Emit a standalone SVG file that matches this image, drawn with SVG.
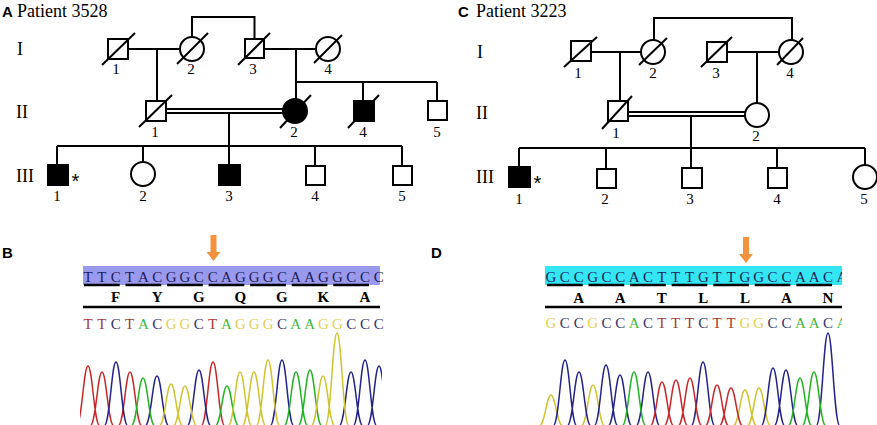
<svg xmlns="http://www.w3.org/2000/svg" width="877" height="425" viewBox="0 0 877 425">
<style>
.ln{stroke:#000;stroke-width:2;fill:none}
.sh{stroke:#000;stroke-width:2;fill:#fff}
.fl{stroke:#000;stroke-width:2;fill:#000}
.lab{font-family:"Liberation Serif",serif;font-size:15px;text-anchor:middle;fill:#000}
.gen{font-family:"Liberation Serif",serif;font-size:18px;fill:#000}
.pl{font-family:"Liberation Sans",Arial,sans-serif;font-weight:bold;font-size:15px;fill:#000}
.pt{font-family:"Liberation Serif",serif;font-size:18px;fill:#000}
.ast{font-family:"Liberation Sans",Arial,sans-serif;font-size:20px;fill:#000}
.seq{font-family:"Liberation Serif",serif;font-size:15px;text-anchor:middle}
.s1{fill:#1e1e5a}
.s2{fill:#000;font-weight:bold}
.T{fill:#a33a32}.C{fill:#34346e}.A{fill:#3dba3d}.G{fill:#e3cf55}
.ul{stroke:#000;stroke-width:2.5}
.rl{stroke:#000;stroke-width:2.5}
.arr{fill:#f5923e}
.tr{fill:none;stroke-width:1.5}
.tT{stroke:#c8282a}.tC{stroke:#23238a}.tA{stroke:#22b422}.tG{stroke:#cfc430}
</style>
<defs>
<path id="arrow" d="M-3,-26H3V-9H7L0,0L-7,-9H-3Z"/>
<clipPath id="clipB"><rect x="80" y="260" width="302" height="170"/></clipPath>
<clipPath id="clipD"><rect x="540" y="260" width="302" height="170"/></clipPath>
</defs>

<!-- Panel labels -->
<text class="pl" x="2" y="17">A</text>
<text class="pt" x="17" y="17">Patient 3528</text>
<text class="pl" x="458" y="17">C</text>
<text class="pt" x="476" y="17">Patient 3223</text>
<text class="pl" x="2" y="258">B</text>
<text class="pl" x="431" y="258">D</text>

<!-- Generation labels -->
<text class="gen" x="17" y="55">I</text>
<text class="gen" x="16" y="118">II</text>
<text class="gen" x="16" y="182">III</text>
<text class="gen" x="477" y="58">I</text>
<text class="gen" x="476" y="119">II</text>
<text class="gen" x="476" y="183">III</text>

<!-- Connectors -->
<g id="connectors" class="ln">
<path d="M128,49H180"/>
<path d="M157,49V101"/>
<path d="M192,37V17H254.5V39"/>
<path d="M264,49H316"/>
<path d="M296,49V99"/>
<path d="M296,82H437"/>
<path d="M363,82V101"/>
<path d="M437,82V101"/>
<path d="M166,109H283M166,113H283"/>
<path d="M229,113V165"/>
<path d="M57,146H402"/>
<path d="M57,146V165M143,146V162M315,146V166M402,146V166"/>
<path d="M591,52H641"/>
<path d="M620,52V101"/>
<path d="M654,40V18H792V40"/>
<path d="M727,52H779"/>
<path d="M757,52V103"/>
<path d="M628,112H745M628,116H745"/>
<path d="M691,116V168"/>
<path d="M519,148H865"/>
<path d="M519,148V167M606,148V169M777,148V168M865,148V165"/>
</g>

<!-- Pedigree A nodes -->
<g id="A-I-1"><rect class="sh" x="108" y="39" width="20" height="20"/><line class="ln" x1="102" y1="65" x2="135" y2="33"/><text class="lab" x="116" y="74">1</text></g>
<g id="A-I-2"><circle class="sh" cx="192" cy="49" r="12"/><line class="ln" x1="177" y1="64" x2="208" y2="33"/><text class="lab" x="191" y="74">2</text></g>
<g id="A-I-3"><rect class="sh" x="245" y="39" width="19" height="19"/><line class="ln" x1="238" y1="65" x2="270" y2="33"/><text class="lab" x="253" y="74">3</text></g>
<g id="A-I-4"><circle class="sh" cx="328" cy="49" r="12"/><line class="ln" x1="314" y1="63" x2="342" y2="35"/><text class="lab" x="328" y="74">4</text></g>
<g id="A-II-1"><rect class="sh" x="146" y="101" width="20" height="20"/><line class="ln" x1="139" y1="127" x2="172" y2="95"/><text class="lab" x="155" y="137">1</text></g>
<g id="A-II-2"><circle class="fl" cx="295" cy="111" r="12"/><line class="ln" x1="280" y1="128" x2="311" y2="95"/><text class="lab" x="294" y="137">2</text></g>
<g id="A-II-4"><rect class="fl" x="354" y="101" width="20" height="20"/><line class="ln" x1="348" y1="128" x2="379" y2="95"/><text class="lab" x="363" y="137">4</text></g>
<g id="A-II-5"><rect class="sh" x="428" y="101" width="19" height="19"/><text class="lab" x="437" y="137">5</text></g>
<g id="A-III-1"><rect class="fl" x="48" y="165" width="20" height="20"/><text class="ast" x="71.5" y="188">*</text><text class="lab" x="57" y="201">1</text></g>
<g id="A-III-2"><circle class="sh" cx="143" cy="174" r="12"/><text class="lab" x="143" y="201">2</text></g>
<g id="A-III-3"><rect class="fl" x="219" y="165" width="21" height="20"/><text class="lab" x="229" y="201">3</text></g>
<g id="A-III-4"><rect class="sh" x="306" y="166" width="19" height="19"/><text class="lab" x="315" y="201">4</text></g>
<g id="A-III-5"><rect class="sh" x="393" y="166" width="19" height="19"/><text class="lab" x="402" y="201">5</text></g>

<!-- Pedigree C nodes -->
<g id="C-I-1"><rect class="sh" x="571" y="41" width="20" height="20"/><line class="ln" x1="564" y1="67" x2="597" y2="37"/><text class="lab" x="578" y="78">1</text></g>
<g id="C-I-2"><circle class="sh" cx="653" cy="52" r="12"/><line class="ln" x1="639" y1="65" x2="667" y2="38"/><text class="lab" x="653" y="78">2</text></g>
<g id="C-I-3"><rect class="sh" x="707" y="42" width="20" height="20"/><line class="ln" x1="701" y1="67" x2="732" y2="37"/><text class="lab" x="716" y="78">3</text></g>
<g id="C-I-4"><circle class="sh" cx="791" cy="52" r="12"/><line class="ln" x1="777" y1="65" x2="803" y2="38"/><text class="lab" x="790" y="78">4</text></g>
<g id="C-II-1"><rect class="sh" x="608" y="101" width="20" height="20"/><line class="ln" x1="602" y1="129" x2="632" y2="96"/><text class="lab" x="616" y="138">1</text></g>
<g id="C-II-2"><circle class="sh" cx="757" cy="115" r="12"/><text class="lab" x="756" y="141">2</text></g>
<g id="C-III-1"><rect class="fl" x="509" y="167" width="21" height="20"/><text class="ast" x="533.5" y="190">*</text><text class="lab" x="519" y="204">1</text></g>
<g id="C-III-2"><rect class="sh" x="597" y="169" width="19" height="19"/><text class="lab" x="605" y="204">2</text></g>
<g id="C-III-3"><rect class="sh" x="682" y="168" width="20" height="20"/><text class="lab" x="690" y="204">3</text></g>
<g id="C-III-4"><rect class="sh" x="768" y="168" width="19" height="20"/><text class="lab" x="777" y="204">4</text></g>
<g id="C-III-5"><circle class="sh" cx="865" cy="177" r="12"/><text class="lab" x="864" y="204">5</text></g>

<!-- Panel B sequence -->
<g id="seqB">
<rect x="83" y="266" width="297" height="19" fill="#9999ee"/>
<text class="seq s1" y="282" x="88 101.85 115.7 129.55 143.4 157.25 171.1 184.95 198.8 212.65 226.5 240.35 254.2 268.05 281.9 295.75 309.6 323.45 337.3 351.15 365 378.85">TTCTACGGCCAGGGCAAGGCCC</text>
<g class="ul">
<line x1="84" y1="285" x2="119.7" y2="285"/><line x1="125.5" y1="285" x2="161.2" y2="285"/><line x1="167.1" y1="285" x2="202.8" y2="285"/><line x1="208.6" y1="285" x2="244.3" y2="285"/><line x1="250.2" y1="285" x2="285.9" y2="285"/><line x1="291.7" y1="285" x2="327.4" y2="285"/><line x1="333.3" y1="285" x2="369" y2="285"/>
</g>
<text class="seq s2" y="302" x="115.7 157.25 198.8 240.35 281.9 323.45 365">FYGQGKA</text>
<line class="rl" x1="83" y1="307" x2="380" y2="307"/>
<text class="seq" y="329"><tspan class="T" x="88">T</tspan><tspan class="T" x="101.85">T</tspan><tspan class="C" x="115.7">C</tspan><tspan class="T" x="129.55">T</tspan><tspan class="A" x="143.4">A</tspan><tspan class="C" x="157.25">C</tspan><tspan class="G" x="171.1">G</tspan><tspan class="G" x="184.95">G</tspan><tspan class="C" x="198.8">C</tspan><tspan class="T" x="212.65">T</tspan><tspan class="A" x="226.5">A</tspan><tspan class="G" x="240.35">G</tspan><tspan class="G" x="254.2">G</tspan><tspan class="G" x="268.05">G</tspan><tspan class="C" x="281.9">C</tspan><tspan class="A" x="295.75">A</tspan><tspan class="A" x="309.6">A</tspan><tspan class="G" x="323.45">G</tspan><tspan class="G" x="337.3">G</tspan><tspan class="C" x="351.15">C</tspan><tspan class="C" x="365">C</tspan><tspan class="C" x="378.85">C</tspan></text>
<use href="#arrow" class="arr" x="213.5" y="261"/>
<g clip-path="url(#clipB)">
<path class="tr tT" d="M76 426C82 426 83.5 366 88 366C92.5 366 94 426 100 426M90 426C96 426 97.5 372 102 372C106.5 372 108 426 114 426M118 426C124 426 125.5 372 130 372C134.5 372 136 426 142 426M201 426C207 426 208.5 362 213 362C217.5 362 219 426 225 426"/>
<path class="tr tC" d="M104 426C110 426 111.5 362 116 362C120.5 362 122 426 128 426M145 426C151 426 152.5 376 157 376C161.5 376 163 426 169 426M187 426C193 426 194.5 370 199 370C203.5 370 205 426 211 426M270 426C276 426 277.5 360 282 360C286.5 360 288 426 294 426M339 426C345 426 346.5 372 351 372C355.5 372 357 426 363 426M353 426C359 426 360.5 360 365 360C369.5 360 371 426 377 426M367 426C373 426 374.5 366 379 366C383.5 366 385 426 391 426"/>
<path class="tr tA" d="M131 426C137 426 138.5 378 143 378C147.5 378 149 426 155 426M215 426C221 426 222.5 386 227 386C231.5 386 233 426 239 426M284 426C290 426 291.5 372 296 372C300.5 372 302 426 308 426M298 426C304 426 305.5 370 310 370C314.5 370 316 426 322 426"/>
<path class="tr tG" d="M159 426C165 426 166.5 384 171 384C175.5 384 177 426 183 426M173 426C179 426 180.5 386 185 386C189.5 386 191 426 197 426M228 426C234 426 235.5 372 240 372C244.5 372 246 426 252 426M242 426C248 426 249.5 372 254 372C258.5 372 260 426 266 426M256 426C262 426 263.5 360 268 360C272.5 360 274 426 280 426M311 426C317 426 318.5 376 323 376C327.5 376 329 426 335 426M325 426C331 426 332.5 333 337 333C341.5 333 343 426 349 426"/>
</g>
</g>

<!-- Panel D sequence -->
<g id="seqD">
<rect x="545" y="266" width="297" height="19" fill="#33e6f2"/>
<g clip-path="url(#clipD)">
<text class="seq s1" y="282" x="551 564.85 578.7 592.55 606.4 620.25 634.1 647.95 661.8 675.65 689.5 703.35 717.2 731.05 744.9 758.75 772.6 786.45 800.3 814.15 828 841.85">GCCGCCACTTTGTTGGCCAACA</text>
<text class="seq" y="328"><tspan class="G" x="551">G</tspan><tspan class="C" x="564.85">C</tspan><tspan class="C" x="578.7">C</tspan><tspan class="G" x="592.55">G</tspan><tspan class="C" x="606.4">C</tspan><tspan class="C" x="620.25">C</tspan><tspan class="A" x="634.1">A</tspan><tspan class="C" x="647.95">C</tspan><tspan class="T" x="661.8">T</tspan><tspan class="T" x="675.65">T</tspan><tspan class="T" x="689.5">T</tspan><tspan class="C" x="703.35">C</tspan><tspan class="T" x="717.2">T</tspan><tspan class="T" x="731.05">T</tspan><tspan class="G" x="744.9">G</tspan><tspan class="G" x="758.75">G</tspan><tspan class="C" x="772.6">C</tspan><tspan class="C" x="786.45">C</tspan><tspan class="A" x="800.3">A</tspan><tspan class="A" x="814.15">A</tspan><tspan class="C" x="828">C</tspan><tspan class="A" x="841.85">A</tspan></text>
<path class="tr tG" d="M539 426C545 426 546.5 395 551 395C555.5 395 557 426 563 426M581 426C587 426 588.5 385 593 385C597.5 385 599 426 605 426M733 426C739 426 740.5 390 745 390C749.5 390 751 426 757 426M747 426C753 426 754.5 388 759 388C763.5 388 765 426 771 426"/>
<path class="tr tC" d="M553 426C559 426 560.5 360 565 360C569.5 360 571 426 577 426M567 426C573 426 574.5 372 579 372C583.5 372 585 426 591 426M594 426C600 426 601.5 365 606 365C610.5 365 612 426 618 426M608 426C614 426 615.5 375 620 375C624.5 375 626 426 632 426M636 426C642 426 643.5 372 648 372C652.5 372 654 426 660 426M691 426C697 426 698.5 362 703 362C707.5 362 709 426 715 426M761 426C767 426 768.5 368 773 368C777.5 368 779 426 785 426M774 426C780 426 781.5 370 786 370C790.5 370 792 426 798 426M816 426C822 426 823.5 333 828 333C832.5 333 834 426 840 426"/>
<path class="tr tA" d="M622 426C628 426 629.5 372 634 372C638.5 372 640 426 646 426M788 426C794 426 795.5 378 800 378C804.5 378 806 426 812 426M802 426C808 426 809.5 372 814 372C818.5 372 820 426 826 426"/>
<path class="tr tT" d="M650 426C656 426 657.5 382 662 382C666.5 382 668 426 674 426M664 426C670 426 671.5 380 676 380C680.5 380 682 426 688 426M678 426C684 426 685.5 378 690 378C694.5 378 696 426 702 426M705 426C711 426 712.5 385 717 385C721.5 385 723 426 729 426M719 426C725 426 726.5 388 731 388C735.5 388 737 426 743 426"/>
</g>
<g class="ul">
<line x1="547" y1="285" x2="582.7" y2="285"/><line x1="588.5" y1="285" x2="624.2" y2="285"/><line x1="630.1" y1="285" x2="665.8" y2="285"/><line x1="671.6" y1="285" x2="707.3" y2="285"/><line x1="713.2" y1="285" x2="748.9" y2="285"/><line x1="754.7" y1="285" x2="790.4" y2="285"/><line x1="796.3" y1="285" x2="832" y2="285"/>
</g>
<text class="seq s2" y="303" x="578.7 620.25 661.8 703.35 744.9 786.45 828">AATLLAN</text>
<line class="rl" x1="545" y1="307" x2="842" y2="307"/>
<use href="#arrow" class="arr" x="746" y="263"/>
</g>
</svg>
